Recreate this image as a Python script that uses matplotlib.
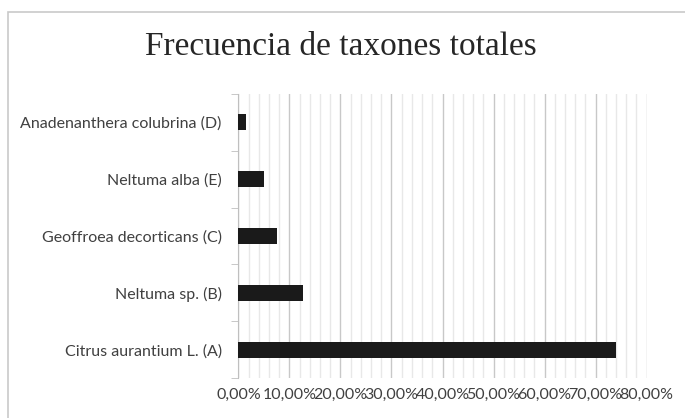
import numpy as np
import matplotlib.pyplot as plt
from matplotlib.ticker import MultipleLocator, FuncFormatter
from matplotlib.patches import Rectangle

# bottom to top
taxa = ["Citrus aurantium L. (A)", "Neltuma sp. (B)", "Geoffroea decorticans (C)",
        "Neltuma alba (E)", "Anadenanthera colubrina (D)"]
freq = [73.9, 12.7, 7.6, 5.1, 1.4]

fig = plt.figure(figsize=(6.85, 4.18), dpi=100)
fig.patches.append(Rectangle((8 / 685, -0.1), 1.2, 1 - 12 / 418 + 0.1,
                             transform=fig.transFigure, fill=False,
                             edgecolor="#c9c9c9", linewidth=1.2))

ax = fig.add_axes([0.348, 0.0957, 0.596, 0.6795])
y = np.arange(len(taxa))
ax.barh(y, freq, height=0.28, color="#1a1a1a", zorder=3)

ax.set_xlim(0, 80)
ax.set_ylim(-0.5, len(taxa) - 0.5)
ax.xaxis.set_major_locator(MultipleLocator(10))
ax.xaxis.set_minor_locator(MultipleLocator(2))
ax.xaxis.set_major_formatter(FuncFormatter(lambda v, p: f"{v:.2f}%".replace(".", ",")))
ax.grid(axis="x", which="major", color="#c8c8c8", linewidth=1)
ax.grid(axis="x", which="minor", color="#e8e8e8", linewidth=1)
ax.tick_params(axis="x", which="both", length=0, labelsize=11.5, pad=7, colors="#404040")

ax.set_yticks(y)
ax.set_yticklabels(taxa)
ax.set_yticks(np.arange(-0.5, len(taxa)), minor=True)
ax.tick_params(axis="y", which="major", length=0, pad=12, labelsize=11.5, colors="#404040")
ax.tick_params(axis="y", which="minor", length=5, color="#bfbfbf")

for s in ["top", "right", "bottom"]:
    ax.spines[s].set_visible(False)
ax.spines["left"].set_color("#bfbfbf")

for lab in ax.get_xticklabels() + ax.get_yticklabels():
    lab.set_fontfamily(["Lato", "DejaVu Sans"])

fig.text(0.498, 1 - 47 / 418, "Frecuencia de taxones totales", ha="center", va="center",
         fontsize=24, family=["Liberation Serif"], color="#262626")

fig.savefig("out.png", dpi=100)
